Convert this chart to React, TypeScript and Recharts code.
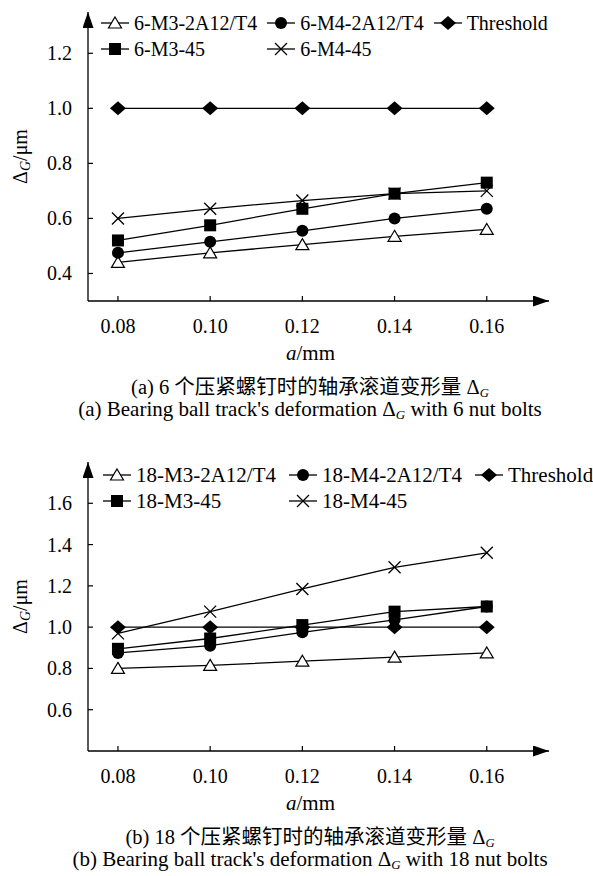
import { Legend, Line, LineChart, XAxis, YAxis } from "recharts";

// shared x values: a / mm
const aValues = [0.08, 0.1, 0.12, 0.14, 0.16];
const xTicks = [0.08, 0.1, 0.12, 0.14, 0.16];

// (a) 6 nut bolts
const m3Al6 = [0.44, 0.475, 0.505, 0.535, 0.56];
const m4Al6 = [0.475, 0.515, 0.555, 0.6, 0.635];
const m3St6 = [0.52, 0.575, 0.635, 0.69, 0.73];
const m4St6 = [0.6, 0.635, 0.665, 0.69, 0.7];

// (b) 18 nut bolts
const m3Al18 = [0.8, 0.815, 0.835, 0.855, 0.875];
const m4Al18 = [0.875, 0.91, 0.975, 1.035, 1.1];
const m3St18 = [0.895, 0.945, 1.01, 1.075, 1.1];
const m4St18 = [0.97, 1.075, 1.185, 1.29, 1.36];

const threshold = [1, 1, 1, 1, 1];

const yTicksA = [0.4, 0.6, 0.8, 1.0, 1.2];
const yTicksB = [0.6, 0.8, 1.0, 1.2, 1.4, 1.6];

const serif = "Liberation Serif, Times New Roman, DejaVu Serif, Noto Sans CJK SC, serif";
const X_MARGIN = 18;
const Y_MARGIN = 16;

type MarkerKind = "triangle" | "circle" | "square" | "diamond" | "cross";

interface SeriesDef {
  key: string;
  label: string;
  marker: MarkerKind;
  values: number[];
}

function MarkerShape({ kind, cx, cy }: { kind: MarkerKind; cx: number; cy: number }) {
  if (kind === "triangle") {
    return (
      <polygon
        points={`${cx},${cy - 6} ${cx + 6.5},${cy + 5} ${cx - 6.5},${cy + 5}`}
        fill="#fff"
        stroke="#000"
        strokeWidth={1.2}
      />
    );
  }
  if (kind === "circle") {
    return <circle cx={cx} cy={cy} r={6} fill="#000" />;
  }
  if (kind === "square") {
    return <rect x={cx - 6} y={cy - 6} width={12} height={12} fill="#000" />;
  }
  if (kind === "diamond") {
    return (
      <polygon points={`${cx},${cy - 7} ${cx + 8},${cy} ${cx},${cy + 7} ${cx - 8},${cy}`} fill="#000" />
    );
  }
  return (
    <g stroke="#000" strokeWidth={1.3}>
      <line x1={cx - 6} y1={cy - 6} x2={cx + 6} y2={cy + 6} />
      <line x1={cx - 6} y1={cy + 6} x2={cx + 6} y2={cy - 6} />
    </g>
  );
}

function buildRows(series: SeriesDef[]) {
  return aValues.map((a, i) => {
    const row: Record<string, number> = { a };
    series.forEach((s) => {
      row[s.key] = s.values[i];
    });
    return row;
  });
}

function XTick({ x, y, payload }: any) {
  const axisY = y - X_MARGIN;
  return (
    <g>
      <line x1={x} y1={axisY} x2={x} y2={axisY - 5} stroke="#000" strokeWidth={1.2} />
      <text x={x} y={y} dy="0.71em" textAnchor="middle" style={{ fontFamily: serif, fontSize: 20 }} fill="#000">
        {Number(payload.value).toFixed(2)}
      </text>
    </g>
  );
}

function YTick({ x, y, payload }: any) {
  const axisX = x + Y_MARGIN;
  return (
    <g>
      <line x1={axisX} y1={y} x2={axisX + 5} y2={y} stroke="#000" strokeWidth={1.2} />
      <text x={x} y={y} dy="0.35em" textAnchor="end" style={{ fontFamily: serif, fontSize: 20 }} fill="#000">
        {Number(payload.value).toFixed(1)}
      </text>
    </g>
  );
}

function YLabel({ viewBox }: any) {
  const cx = viewBox.x + 20;
  const cy = viewBox.y + viewBox.height / 2;
  return (
    <text
      x={cx}
      y={cy}
      transform={`rotate(-90 ${cx} ${cy})`}
      textAnchor="middle"
      dominantBaseline="central"
      style={{ fontFamily: serif, fontSize: 20 }}
      fill="#000"
    >
      <tspan>Δ</tspan>
      <tspan fontStyle="italic" style={{ fontSize: 14 }} dy={5}>
        G
      </tspan>
      <tspan dy={-5}>/μm</tspan>
    </text>
  );
}

function XLabel({ viewBox }: any) {
  const cx = viewBox.x + viewBox.width / 2 - 8;
  const cy = viewBox.y + 52;
  return (
    <text
      x={cx}
      y={cy}
      textAnchor="middle"
      dominantBaseline="central"
      style={{ fontFamily: serif, fontSize: 21 }}
      fill="#000"
    >
      <tspan fontStyle="italic">a</tspan>
      <tspan>/mm</tspan>
    </text>
  );
}

function LegendBox({ series, gap, fontSize }: { series: SeriesDef[]; gap: number; fontSize: number }) {
  return (
    <div
      style={{
        display: "grid",
        gridTemplateColumns: "auto auto auto",
        columnGap: gap,
        justifyContent: "start",
        fontFamily: serif,
        fontSize,
        lineHeight: "26px",
        color: "#000",
      }}
    >
      {series.map((s) => (
        <div key={s.key} style={{ display: "flex", alignItems: "center", whiteSpace: "nowrap" }}>
          <svg width={30} height={26}>
            <line x1={1} y1={13} x2={29} y2={13} stroke="#000" strokeWidth={1.3} />
            <MarkerShape kind={s.marker} cx={15} cy={13} />
          </svg>
          <span style={{ marginLeft: 4 }}>{s.label}</span>
        </div>
      ))}
    </div>
  );
}

function Panel({
  series,
  yDomain,
  yTicks,
  legendTop,
  legendLeft,
  legendGap,
  legendFont,
}: {
  series: SeriesDef[];
  yDomain: [number, number];
  yTicks: number[];
  legendTop: number;
  legendLeft: number;
  legendGap: number;
  legendFont: number;
}) {
  const data = buildRows(series);
  return (
    <LineChart width={593} height={370} data={data} margin={{ top: 12, right: 44, left: 0, bottom: 0 }}>
      <XAxis
        dataKey="a"
        type="number"
        domain={[0.0735, 0.1735]}
        ticks={xTicks}
        allowDataOverflow
        height={69}
        tickSize={0}
        tickLine={false}
        tickMargin={X_MARGIN}
        tick={<XTick />}
        axisLine={{ stroke: "#000", strokeWidth: 1.3, markerEnd: "url(#axisArrow)" }}
        label={<XLabel />}
      />
      <YAxis
        type="number"
        domain={yDomain}
        ticks={yTicks}
        allowDataOverflow
        width={88}
        tickSize={0}
        tickLine={false}
        tickMargin={Y_MARGIN}
        tick={<YTick />}
        axisLine={{ stroke: "#000", strokeWidth: 1.3, markerStart: "url(#axisArrow)" }}
        label={<YLabel />}
      />
      <Legend
        layout="horizontal"
        verticalAlign="middle"
        align="center"
        wrapperStyle={{ top: legendTop, left: legendLeft, width: 593 - legendLeft }}
        content={() => <LegendBox series={series} gap={legendGap} fontSize={legendFont} />}
      />
      {series.map((s) => (
        <Line
          key={s.key}
          dataKey={s.key}
          name={s.label}
          type="linear"
          stroke="#000"
          strokeWidth={1.3}
          isAnimationActive={false}
          dot={(p: any) => <MarkerShape key={`${s.key}-${p.index}`} kind={s.marker} cx={p.cx} cy={p.cy} />}
          activeDot={false}
        />
      ))}
    </LineChart>
  );
}

const seriesA: SeriesDef[] = [
  { key: "m3Al", label: "6-M3-2A12/T4", marker: "triangle", values: m3Al6 },
  { key: "m4Al", label: "6-M4-2A12/T4", marker: "circle", values: m4Al6 },
  { key: "thr", label: "Threshold", marker: "diamond", values: threshold },
  { key: "m3St", label: "6-M3-45", marker: "square", values: m3St6 },
  { key: "m4St", label: "6-M4-45", marker: "cross", values: m4St6 },
];

const seriesB: SeriesDef[] = [
  { key: "m3Al", label: "18-M3-2A12/T4", marker: "triangle", values: m3Al18 },
  { key: "m4Al", label: "18-M4-2A12/T4", marker: "circle", values: m4Al18 },
  { key: "thr", label: "Threshold", marker: "diamond", values: threshold },
  { key: "m3St", label: "18-M3-45", marker: "square", values: m3St18 },
  { key: "m4St", label: "18-M4-45", marker: "cross", values: m4St18 },
];

const sub = (
  <span style={{ fontStyle: "italic", fontSize: "0.62em", position: "relative", top: "0.2em" }}>G</span>
);

function Caption({ top, zh, en }: { top: number; zh: string; en: string }) {
  const [enHead, enTail] = en.split("Δ");
  return (
    <div style={{ position: "absolute", left: 0, top, width: 620, textAlign: "center", color: "#000" }}>
      <div style={{ height: 21, fontSize: 20.5, lineHeight: "21px", whiteSpace: "nowrap" }}>
        {zh} Δ{sub}
      </div>
      <div style={{ height: 22, fontSize: 21, lineHeight: "22px", whiteSpace: "nowrap" }}>
        {enHead}Δ{sub}
        {enTail}
      </div>
    </div>
  );
}

export default function App() {
  return (
    <div
      style={{
        position: "absolute",
        left: 0,
        top: 0,
        width: 593,
        height: 876,
        background: "#fff",
        fontFamily: serif,
        overflow: "hidden",
      }}
    >
      <svg width={0} height={0} style={{ position: "absolute" }}>
        <defs>
          <marker
            id="axisArrow"
            markerUnits="userSpaceOnUse"
            markerWidth={17}
            markerHeight={11}
            refX={16}
            refY={5.5}
            orient="auto-start-reverse"
          >
            <path d="M0,0 L16,5.5 L0,11 z" fill="#000" />
          </marker>
        </defs>
      </svg>
      <div style={{ position: "absolute", left: 0, top: 0 }}>
        <Panel
          series={seriesA}
          yDomain={[0.3, 1.35]}
          yTicks={yTicksA}
          legendTop={10}
          legendLeft={100}
          legendGap={9}
          legendFont={20}
        />
      </div>
      <Caption
        top={377}
        zh="(a) 6 个压紧螺钉时的轴承滚道变形量"
        en="(a) Bearing ball track's deformation Δ with 6 nut bolts"
      />
      <div style={{ position: "absolute", left: 0, top: 450 }}>
        <Panel
          series={seriesB}
          yDomain={[0.4, 1.8]}
          yTicks={yTicksB}
          legendTop={12}
          legendLeft={102}
          legendGap={12}
          legendFont={21}
        />
      </div>
      <Caption
        top={827}
        zh="(b) 18 个压紧螺钉时的轴承滚道变形量"
        en="(b) Bearing ball track's deformation Δ with 18 nut bolts"
      />
    </div>
  );
}
